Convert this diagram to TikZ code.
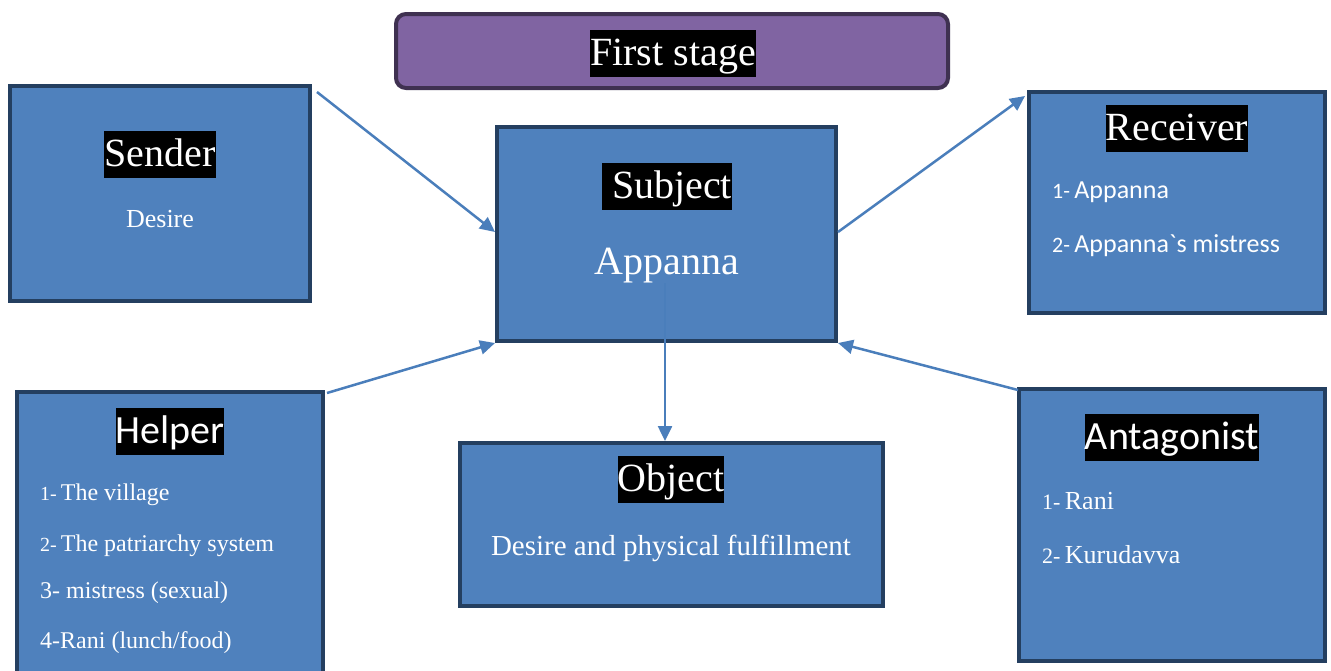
\documentclass[tikz,border=0pt]{standalone}
\usepackage{fontspec}
\setmainfont{Liberation Serif}
\newfontfamily\calibri{Carlito}
\usetikzlibrary{arrows.meta}
\definecolor{boxfill}{HTML}{4F81BD}
\definecolor{boxline}{HTML}{243F60}
\definecolor{titlefill}{HTML}{8064A2}
\definecolor{titleline}{HTML}{3F3151}
\definecolor{arrowc}{HTML}{4A7EBB}
\newcommand\numpre[1]{{\fontsize{20}{24}\selectfont #1}}
\newcommand\numpreb[1]{{\fontsize{22}{26}\selectfont #1}}
\begin{document}
\begin{tikzpicture}[x=1pt,y=-1pt,
  box/.style={draw=boxline, fill=boxfill, line width=4pt, inner sep=0pt},
  head/.style={fill=black, text=white, inner xsep=0pt, inner ysep=0pt,
    text height=36pt, text depth=11pt, font=\fontsize{40}{48}\selectfont},
  headsans/.style={head, font=\calibri\fontsize{40}{48}\selectfont},
  body/.style={text=white, inner sep=0pt, anchor=base},
  item/.style={text=white, inner sep=0pt, anchor=base west},
  arr/.style={draw=arrowc, line width=2.5pt, -{Triangle[length=15pt,width=14pt]}}
]
\useasboundingbox (0,0) rectangle (1331,670);
\fill[white] (0,0) rectangle (1331,670);
\clip (0,0) rectangle (1331,670);

% title
\node[draw=titleline, fill=titlefill, line width=4pt, rounded corners=10pt,
  minimum width=552pt, minimum height=74pt] (title) at (672,51) {};
\node[head] (titletext) at (673,53) {First stage};

% boxes
\node[box, minimum width=300pt, minimum height=215pt] (sender) at (160,193.5) {};
\node[box, minimum width=339pt, minimum height=214pt] (subject) at (666.5,234) {};
\node[box, minimum width=296pt, minimum height=221pt] (receiver) at (1177,202.5) {};
\node[box, minimum width=306pt, minimum height=308pt] (helper) at (170,546) {};
\node[box, minimum width=423pt, minimum height=163pt] (object) at (671.5,524.5) {};
\node[box, minimum width=306pt, minimum height=272pt] (antagonist) at (1172,525) {};

% sender
\node[head] (senderhead) at (160,154) {Sender};
\node[body, font=\fontsize{26}{30}\selectfont] (sendertext) at (160,227) {Desire};

% subject
\node[head] (subjecthead) at (667,186) {\hspace{10pt}Subject};
\node[body, font=\fontsize{40}{48}\selectfont] (subjecttext) at (667,274) {Appanna};

% receiver
\node[head] (receiverhead) at (1177,128) {Receiver};
\node[item, font=\calibri\fontsize{26}{30}\selectfont] (rec1) at (1052,198) {\numpreb{1-}\,Appanna};
\node[item, font=\calibri\fontsize{26}{30}\selectfont] (rec2) at (1052,252) {\numpreb{2-}\,Appanna`s mistress};

% helper
\node[headsans] (helperhead) at (170,431) {Helper};
\node[item, font=\fontsize{24}{28}\selectfont] (help1) at (40,500) {\numpre{1-}\,The village};
\node[item, font=\fontsize{24}{28}\selectfont] (help2) at (40,551) {\numpre{2-}\,The patriarchy system};
\node[item, font=\fontsize{24}{28}\selectfont] (help3) at (40,598) {3- mistress (sexual)};
\node[item, font=\fontsize{24}{28}\selectfont] (help4) at (40,648) {4-Rani (lunch/food)};

% object
\node[head] (objecthead) at (671,479) {Object};
\node[body, font=\fontsize{29}{34}\selectfont] (objecttext) at (671,555) {Desire and physical fulfillment};

% antagonist
\node[headsans] (antagonisthead) at (1172,437) {Antagonist};
\node[item, font=\fontsize{26}{30}\selectfont] (ant1) at (1042,509) {\numpreb{1-}\,Rani};
\node[item, font=\fontsize{26}{30}\selectfont] (ant2) at (1042,563) {\numpreb{2-}\,Kurudavva};

% connectors
\coordinate (sdrop) at (665,283);
\draw[arr] ([shift={(5,8)}]sender.north east) -- ([yshift=2pt]subject.west);
\draw[arr] ([yshift=2pt]subject.east) -- ([shift={(-2,6)}]receiver.north west);
\draw[arr] ([shift={(2,3)}]helper.north east) -- (subject.south west);
\draw[arr] ([shift={(1,3)}]antagonist.north west) -- (subject.south east);
\draw[arr] (sdrop) -- (sdrop |- object.north);
\end{tikzpicture}
\end{document}
